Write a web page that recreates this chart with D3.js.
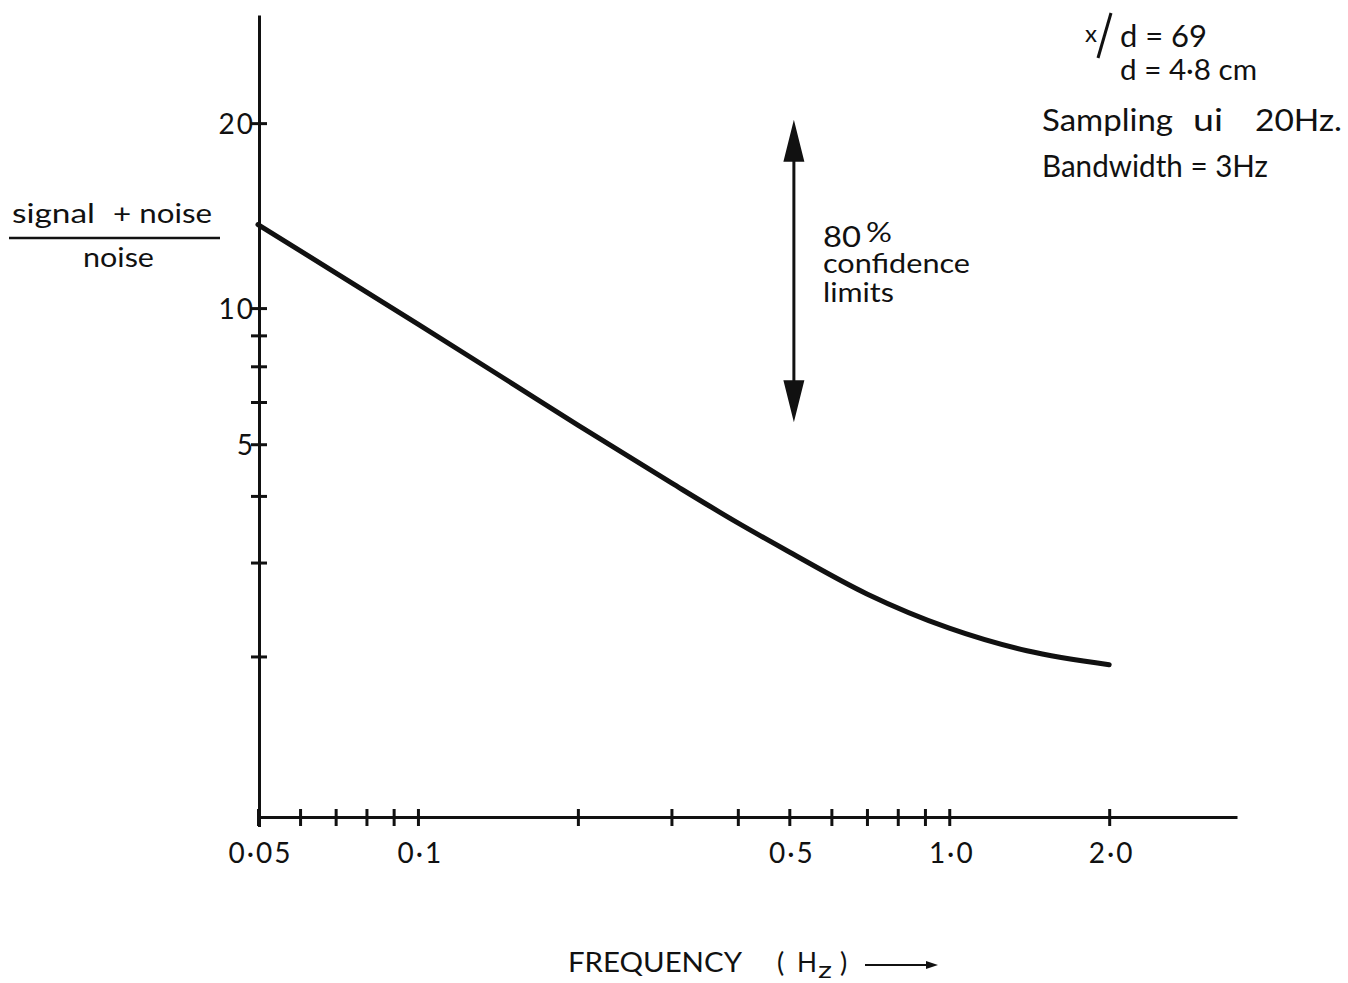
<!DOCTYPE html>
<html>
<head>
<meta charset="utf-8">
<script src="https://cdn.jsdelivr.net/npm/d3@7"></script>
<style>
  body { margin: 0; background: #fff; }
  svg { display: block; font-family: Lato, "Open Sans", sans-serif; }
  text { fill: #111; }
</style>
</head>
<body>
<svg id="chart" width="1348" height="983"></svg>
<script>
// (signal + noise) / noise against frequency
var freq = [0.05, 0.07, 0.1, 0.15, 0.2, 0.3, 0.4, 0.5, 0.7, 1.0, 1.4, 2.0];
var ratio = [12.91, 10.48, 8.40, 6.51, 5.43, 4.23, 3.56, 3.14, 2.62, 2.26, 2.05, 1.93];

var xTickValues = [0.05, 0.06, 0.07, 0.08, 0.09, 0.1, 0.2, 0.3, 0.4, 0.5, 0.6, 0.7, 0.8, 0.9, 1.0, 2.0];
var xLabelValues = [0.05, 0.1, 0.5, 1.0, 2.0];
var xLabelTexts = ["0·05", "0·1", "0·5", "1·0", "2·0"];

// the original figure labels the ninth tick "10"
var yTickValues = [2, 3, 4, 5, 6, 7, 8, 9, 20];
var yTickLabels = ["", "", "", "5", "", "", "", "10", "20"];

// 80% confidence limits, drawn as a double arrow
var confFreq = 0.51;
var confLimits = [5.5, 20.3];

var svg = d3.select("#chart");
var ink = "#111";

var x = d3.scaleLog().domain([0.05, 3.48]).range([258, 1237]);
var y = d3.scaleLog().domain([1, 31.9]).range([817, 15]);

// helper: plain text squeezed/stretched to the width it has in the figure
function label(tx, ty, size, str, width) {
    var t = svg.append("text").attr("x", tx).attr("y", ty).attr("font-size", size).text(str);
    if (width) t.attr("textLength", width).attr("lengthAdjust", "spacingAndGlyphs");
    return t;
}

// x axis
var xAxis = svg.append("g")
    .attr("transform", "translate(0,817)")
    .call(d3.axisBottom(x)
        .tickValues(xTickValues)
        .tickSizeOuter(0)
        .tickFormat(function(d) {
            var i = xLabelValues.indexOf(d);
            return i < 0 ? "" : xLabelTexts[i];
        }))
    .attr("font-family", null)
    .attr("font-size", 28);
xAxis.select(".domain").attr("stroke", ink).attr("stroke-width", 3);
xAxis.selectAll(".tick line").attr("stroke", ink).attr("stroke-width", 3).attr("y1", -8).attr("y2", 9);
xAxis.selectAll(".tick text").attr("fill", ink).attr("y", 46).attr("dy", 0)
    .attr("x", 2)
    .attr("letter-spacing", 2);

// y axis
var yAxis = svg.append("g")
    .attr("transform", "translate(259,0)")
    .call(d3.axisLeft(y)
        .tickValues(yTickValues)
        .tickSizeOuter(0)
        .tickFormat(function(d, i) { return yTickLabels[i]; }))
    .attr("font-family", null)
    .attr("font-size", 28);
yAxis.select(".domain").attr("stroke", ink).attr("stroke-width", 3);
yAxis.selectAll(".tick line").attr("stroke", ink).attr("stroke-width", 3).attr("x1", -8).attr("x2", 8);
yAxis.selectAll(".tick text").attr("fill", ink).attr("x", -4).attr("dy", "0.36em")
    .attr("letter-spacing", 2);
// little stub of the y axis below the x axis
yAxis.append("line").attr("x1", 0.5).attr("x2", 0.5).attr("y1", 817).attr("y2", 827)
    .attr("stroke", ink).attr("stroke-width", 3);

// the curve
var line = d3.line()
    .x(function(d, i) { return x(freq[i]); })
    .y(function(d, i) { return y(ratio[i]); })
    .curve(d3.curveMonotoneX);

svg.append("path")
    .datum(freq)
    .attr("d", line)
    .attr("fill", "none")
    .attr("stroke", ink)
    .attr("stroke-width", 5)
    .attr("stroke-linecap", "round");

// confidence arrow
var arrX = x(confFreq), arrTop = y(confLimits[1]), arrBot = y(confLimits[0]);
var headLen = 42, headW = 10.5;
svg.append("line")
    .attr("x1", arrX).attr("x2", arrX)
    .attr("y1", arrTop + headLen - 2).attr("y2", arrBot - headLen + 2)
    .attr("stroke", ink).attr("stroke-width", 3);
svg.append("path")
    .attr("d", "M" + arrX + "," + arrTop + "L" + (arrX + headW) + "," + (arrTop + headLen) +
               "L" + (arrX - headW) + "," + (arrTop + headLen) + "Z")
    .attr("fill", ink);
svg.append("path")
    .attr("d", "M" + arrX + "," + arrBot + "L" + (arrX + headW) + "," + (arrBot - headLen) +
               "L" + (arrX - headW) + "," + (arrBot - headLen) + "Z")
    .attr("fill", ink);

// "80% confidence limits" as one block of text
var conf = svg.append("text").attr("font-size", 27);
conf.append("tspan").attr("x", 823).attr("y", 247).attr("font-size", 28)
    .attr("textLength", 38).attr("lengthAdjust", "spacingAndGlyphs").text("80");
conf.append("tspan").attr("x", 866).attr("y", 242).attr("font-size", 26)
    .attr("textLength", 26).attr("lengthAdjust", "spacingAndGlyphs").text("%");
conf.append("tspan").attr("x", 823).attr("y", 273)
    .attr("textLength", 147).attr("lengthAdjust", "spacingAndGlyphs").text("confidence");
conf.append("tspan").attr("x", 823).attr("y", 302)
    .attr("textLength", 71).attr("lengthAdjust", "spacingAndGlyphs").text("limits");

// y label as a fraction
label(12, 223, 27, "signal", 83);
label(113, 223, 27, "+ noise", 99);
svg.append("line").attr("x1", 9).attr("x2", 220).attr("y1", 238).attr("y2", 238)
    .attr("stroke", ink).attr("stroke-width", 2.5);
label(83, 267, 27, "noise", 71);

// notes, top right
label(1085, 42, 24, "x", 12);
svg.append("line").attr("x1", 1111).attr("y1", 13).attr("x2", 1098).attr("y2", 58)
    .attr("stroke", ink).attr("stroke-width", 3);
label(1120, 47, 30, "d = 69", 87);
label(1120, 80, 29, "d = 4·8 cm", 137);
label(1042, 131, 30, "Sampling", 131);
label(1193, 131, 30, "ui", 30);
label(1255, 131, 30, "20Hz.", 87);
label(1042, 177, 30, "Bandwidth = 3Hz", 226);

// x title
label(568, 972, 27, "FREQUENCY", 174);
label(777, 972, 27, "(");
label(797, 972, 27, "H", 20);
label(818, 978, 24, "z", 14);
label(840, 972, 27, ")");
svg.append("line").attr("x1", 865).attr("x2", 928).attr("y1", 965).attr("y2", 965)
    .attr("stroke", ink).attr("stroke-width", 2);
svg.append("path").attr("d", "M938,965L926,961L926,969Z").attr("fill", ink);
</script>
</body>
</html>
